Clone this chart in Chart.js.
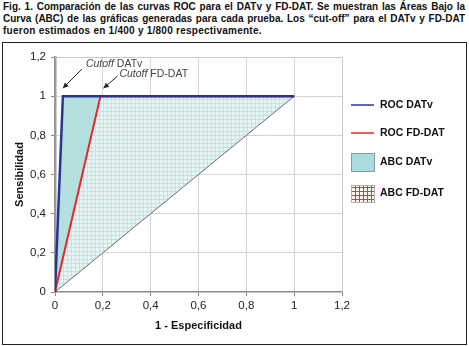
<!DOCTYPE html>
<html><head><meta charset="utf-8">
<script src="https://cdn.jsdelivr.net/npm/chart.js@4"></script>
<style>
html,body{margin:0;padding:0;background:#fff;width:469px;height:346px;overflow:hidden;font-family:"Liberation Sans",Arial,sans-serif;}
#cap{position:absolute;left:3px;top:1px;width:462px;font-size:10px;font-weight:bold;line-height:12px;color:#111;}
#cap div{text-align:justify;text-align-last:justify;white-space:nowrap;}
#cap div.last{text-align-last:left;letter-spacing:0.25px;}
#box{position:absolute;left:2px;top:42px;width:463px;height:301px;border:1px solid #222;}
#c{position:absolute;left:0;top:0;}
</style></head>
<body>
<div id="cap">
<div>Fig. 1. Comparación de las curvas ROC para el DATv y FD-DAT. Se muestran las Áreas Bajo la</div>
<div>Curva (ABC) de las gráficas generadas para cada prueba. Los “cut-off” para el DATv y FD-DAT</div>
<div class="last">fueron estimados en 1/400 y 1/800 respectivamente.</div>
</div>
<div id="box"></div>
<canvas id="c" width="469" height="346"></canvas>
<script>
// ---- data ----
const rocDATvX = [0, 0.033, 1];
const rocDATvY = [0, 1, 1];
const rocFDX = [0, 0.19, 1];
const rocFDY = [0, 1, 1];
const diagX = [0, 1];
const diagY = [0, 1];
const tickValues = [0, 0.2, 0.4, 0.6, 0.8, 1, 1.2];
const legendLabels = ["ROC DATv", "ROC FD-DAT", "ABC DATv", "ABC FD-DAT"];
const cutoffLabels = [["Cutoff", " DATv"], ["Cutoff", " FD-DAT"]];

const pts = (xs, ys) => xs.map((x, i) => ({x: x, y: ys[i]}));
const fmt = v => String(Math.round(v * 10) / 10).replace('.', ',');

function makePattern(bg, line, size) {
  const p = document.createElement('canvas');
  p.width = size; p.height = size;
  const g = p.getContext('2d');
  g.fillStyle = bg; g.fillRect(0, 0, size, size);
  g.fillStyle = line;
  g.fillRect(size - 1, 0, 1, size);
  g.fillRect(0, size - 1, size, 1);
  return document.getElementById('c').getContext('2d').createPattern(p, 'repeat');
}
const fdPattern = makePattern('#e8f5f5', '#c2e4e4', 4);
const legPattern = makePattern('#fff4f4', '#e03a3a', 4);

const BLUE = '#2a3593', RED = '#e8262b', TEAL = '#b3dfdf';

const extras = {
  id: 'extras',
  beforeDatasetsDraw(chart) {
    const {ctx, chartArea: a} = chart;
    ctx.save();
    ctx.strokeStyle = '#c8c8c8'; ctx.lineWidth = 1;
    ctx.beginPath();
    ctx.moveTo(a.left, a.top + 0.5); ctx.lineTo(a.right + 0.5, a.top + 0.5);
    ctx.lineTo(a.right + 0.5, a.bottom);
    ctx.stroke();
    ctx.restore();
  },
  afterDraw(chart) {
    const {ctx} = chart;
    const xs = chart.scales.x, ys = chart.scales.y;
    ctx.save();
    // cutoff annotations
    const cut = [
      {px: xs.getPixelForValue(rocDATvX[1]), py: ys.getPixelForValue(rocDATvY[1]), tip: [0, -8], tail: [19, -27], txt: [23, -32], lab: cutoffLabels[0]},
      {px: xs.getPixelForValue(rocFDX[1]), py: ys.getPixelForValue(rocFDY[1]), tip: [3, -8], tail: [17, -20], txt: [19, -22], lab: cutoffLabels[1]}
    ];
    ctx.strokeStyle = '#222'; ctx.fillStyle = '#222'; ctx.lineWidth = 1;
    cut.forEach(c => {
      const tx = c.px + c.tip[0], ty = c.py + c.tip[1];
      const sx = c.px + c.tail[0], sy = c.py + c.tail[1];
      ctx.beginPath(); ctx.moveTo(sx, sy); ctx.lineTo(tx, ty); ctx.stroke();
      const ang = Math.atan2(ty - sy, tx - sx), L = 6, W = 0.45;
      ctx.beginPath();
      ctx.moveTo(tx, ty);
      ctx.lineTo(tx - L * Math.cos(ang - W), ty - L * Math.sin(ang - W));
      ctx.lineTo(tx - L * Math.cos(ang + W), ty - L * Math.sin(ang + W));
      ctx.closePath(); ctx.fill();
      ctx.fillStyle = '#444'; ctx.textBaseline = 'middle'; ctx.textAlign = 'left';
      ctx.font = 'italic 10.5px "Liberation Sans", Arial';
      const x0 = c.px + c.txt[0], y0 = c.py + c.txt[1];
      ctx.fillText(c.lab[0], x0, y0);
      const w = ctx.measureText(c.lab[0]).width;
      ctx.font = '10.5px "Liberation Sans", Arial';
      ctx.fillText(c.lab[1], x0 + w, y0);
      ctx.fillStyle = '#222';
    });
    // legend
    const lx = 351, tx = 380;
    ctx.font = 'bold 10.5px "Liberation Sans", Arial';
    ctx.textBaseline = 'middle'; ctx.textAlign = 'left'; 
    ctx.lineWidth = 1.5;
    ctx.strokeStyle = BLUE; ctx.beginPath(); ctx.moveTo(lx, 105); ctx.lineTo(lx + 23, 105); ctx.stroke();
    ctx.strokeStyle = RED; ctx.beginPath(); ctx.moveTo(lx, 133); ctx.lineTo(lx + 23, 133); ctx.stroke();
    ctx.fillStyle = '#a9dcdc'; ctx.fillRect(lx, 153, 24, 19);
    ctx.strokeStyle = '#8a9a9a'; ctx.lineWidth = 1; ctx.strokeRect(lx + 0.5, 153.5, 23, 18);
    ctx.fillStyle = legPattern; ctx.fillRect(lx, 185, 24, 18);
    ctx.strokeStyle = '#b0b0b0'; ctx.strokeRect(lx + 0.5, 185.5, 23, 17);
    ctx.fillStyle = '#111';
    ctx.fillText(legendLabels[0], tx, 105);
    ctx.fillText(legendLabels[1], tx, 133);
    ctx.fillText(legendLabels[2], tx, 162);
    ctx.fillText(legendLabels[3], tx, 193);
    ctx.restore();
  }
};

const gridColor = ctx => (ctx.tick && (ctx.tick.value === 0 || Math.abs(ctx.tick.value - 1.2) < 1e-6)) ? 'rgba(0,0,0,0)' : '#d4d4d4';

new Chart(document.getElementById('c'), {
  type: 'line',
  data: {
    datasets: [
      {label: legendLabels[0], data: pts(rocDATvX, rocDATvY), borderColor: BLUE, borderWidth: 2.5, fill: false, pointRadius: 0, order: 1},
      {label: legendLabels[1], data: pts(rocFDX, rocFDY), borderColor: RED, borderWidth: 2, fill: false, pointRadius: 0, order: 2},
      {label: 'diag', data: pts(diagX, diagY), borderColor: '#6e6e6e', borderWidth: 1, fill: false, pointRadius: 0, order: 3},
      {label: legendLabels[3], data: pts(rocFDX, rocFDY), borderWidth: 0, borderColor: 'rgba(0,0,0,0)', backgroundColor: fdPattern, fill: 2, pointRadius: 0, order: 4},
      {label: legendLabels[2], data: pts(rocDATvX, rocDATvY), borderWidth: 0, borderColor: 'rgba(0,0,0,0)', backgroundColor: TEAL, fill: 2, pointRadius: 0, order: 5}
    ]
  },
  options: {
    responsive: false, animation: false, devicePixelRatio: 1,
    layout: {padding: {left: 13, top: 57, right: 127, bottom: 13}},
    plugins: {legend: {display: false}, tooltip: {enabled: false}},
    elements: {line: {tension: 0}},
    scales: {
      x: {
        type: 'linear', min: 0, max: 1.2,
        afterBuildTicks: s => { s.ticks = tickValues.map(v => ({value: v})); },
        afterFit: s => { s.height = 41; },
        ticks: {callback: v => fmt(v), color: '#222', font: {family: '"Liberation Sans", Arial', size: 11.5}, padding: 3, maxRotation: 0},
        grid: {color: gridColor, borderDash: [3, 3], tickColor: '#888', tickLength: 4, tickBorderDash: []},
        border: {display: true, color: '#8a8a8a', width: 1.5},
        title: {display: true, text: '1 - Especificidad', color: '#111', font: {family: '"Liberation Sans", Arial', size: 11, weight: 'bold'}, padding: {top: 4, bottom: 0}}
      },
      y: {
        type: 'linear', min: 0, max: 1.2,
        afterBuildTicks: s => { s.ticks = tickValues.map(v => ({value: v})); },
        afterFit: s => { s.width = 42; },
        ticks: {callback: v => fmt(v), color: '#222', font: {family: '"Liberation Sans", Arial', size: 11.5}, padding: 5},
        grid: {color: gridColor, borderDash: [3, 3], tickColor: '#888', tickLength: 4, tickBorderDash: []},
        border: {display: true, color: '#9a9a9a', width: 2.5},
        title: {display: true, text: 'Sensibilidad', color: '#111', font: {family: '"Liberation Sans", Arial', size: 11, weight: 'bold'}, padding: {top: 0, bottom: 2}}
      }
    }
  },
  plugins: [extras]
});
</script>
</body></html>
